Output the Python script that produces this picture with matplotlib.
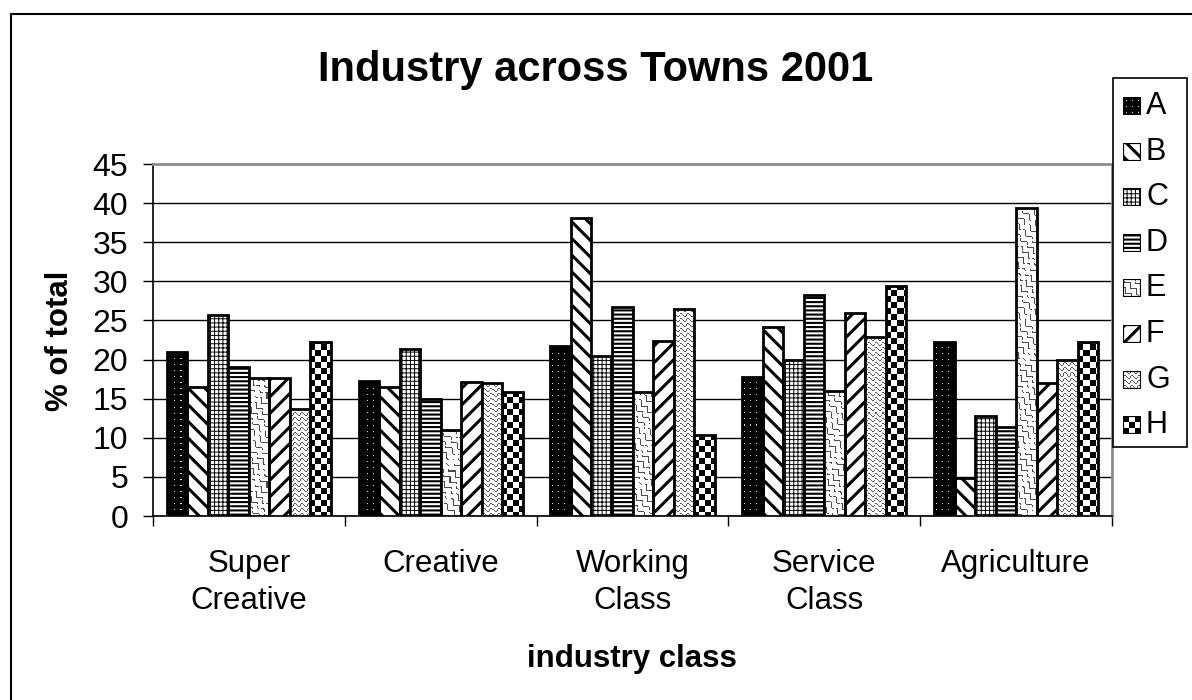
import numpy as np
import matplotlib
matplotlib.use("Agg")
import matplotlib.pyplot as plt
from matplotlib.patches import Rectangle

plt.rcParams['font.family'] = ['Liberation Sans', 'DejaVu Sans']

# data
categories = ["Super\nCreative", "Creative", "Working\nClass", "Service\nClass", "Agriculture"]
towns = ["A", "B", "C", "D", "E", "F", "G", "H"]
town_a = [21.0, 17.3, 21.7, 17.8, 22.2]
town_b = [16.5, 16.5, 38.1, 24.1, 4.8]
town_c = [25.7, 21.3, 20.4, 19.9, 12.8]
town_d = [19.0, 15.0, 26.7, 28.2, 11.4]
town_e = [17.6, 11.0, 15.8, 16.0, 39.4]
town_f = [17.6, 17.1, 22.4, 25.9, 17.0]
town_g = [13.7, 17.0, 26.4, 22.9, 20.0]
town_h = [22.2, 15.9, 10.3, 29.4, 22.2]
series = [town_a, town_b, town_c, town_d, town_e, town_f, town_g, town_h]

# fill style per town: ("hatch", pattern, hatch lw) or ("tex", texture name)
styles = [
    ("tex", "dots"),
    ("hatch", "\\\\", 2.2),
    ("hatch", "++++", 0.7),
    ("hatch", "----", 1.5),
    ("tex", "wave_d"),
    ("hatch", "//", 2.2),
    ("tex", "wave_h"),
    ("tex", "check"),
]

W, H = 1192, 700
DPI = 100


def texture(kind, w, h):
    y, x = np.mgrid[0:h, 0:w]
    arr = np.ones((h, w))
    if kind == "dots":
        arr[:] = 0.0
        arr[(y % 6 == 3) & (x % 6 == 3)] = 0.85
    elif kind == "check":
        arr = (((x // 6) + (y // 6)) % 2).astype(float)
    elif kind == "wave_h":
        v = y + 1.5 * np.sin(2 * np.pi * x / 7.0)
        arr[(v % 5) < 1.1] = 0.35
    elif kind == "wave_d":
        u = (x - y) / np.sqrt(2) + 1.8 * np.sin(2 * np.pi * (x + y) / (np.sqrt(2) * 9))
        arr[(u % 7) < 1.1] = 0.3
    return arr


def draw_bars(ax, x, heights, width, style, tex, lw=2.0):
    if style[0] == "hatch":
        with plt.rc_context({'hatch.linewidth': style[2]}):
            bars = ax.bar(x, heights, width, facecolor='white', edgecolor='black',
                          linewidth=lw, hatch=style[1], zorder=3)
        for b in bars:
            if hasattr(b, 'set_hatch_linewidth'):
                b.set_hatch_linewidth(style[2])
        return bars
    bars = ax.bar(x, heights, width, facecolor='none', edgecolor='black',
                  linewidth=lw, zorder=4)
    x0, x1 = ax.get_xlim()
    y0, y1 = ax.get_ylim()
    for b in bars:
        im = ax.imshow(tex, extent=(x0, x1, y0, y1), origin='upper', cmap='gray',
                       vmin=0, vmax=1, interpolation='nearest', aspect='auto', zorder=3)
        im.set_clip_path(b)
    return bars


fig = plt.figure(figsize=(W / DPI, H / DPI), dpi=DPI)

# plot area in pixels
px_l, px_r, px_t, px_b = 153, 1112, 164, 516
ax = fig.add_axes([px_l / W, 1 - px_b / H, (px_r - px_l) / W, (px_b - px_t) / H])
ax.set_xlim(-0.5, len(categories) - 0.5)
ax.set_ylim(0, 45)

pos = np.arange(len(categories))
bw = 0.107
for i, (vals, st) in enumerate(zip(series, styles)):
    tex = texture(st[1], px_r - px_l, px_b - px_t) if st[0] == "tex" else None
    draw_bars(ax, pos + (i - 3.5) * bw, vals, bw, st, tex)
ax.set_xlim(-0.5, len(categories) - 0.5)
ax.set_ylim(0, 45)

# axes styling
ax.set_yticks(np.arange(0, 46, 5))
ax.yaxis.grid(True, color='black', linewidth=1.0, zorder=0)
ax.set_axisbelow(True)
ax.tick_params(axis='y', labelsize=23, length=7.2, width=1, pad=10.8, direction='out')
ax.set_xticks(np.arange(-0.5, len(categories), 1.0))
ax.set_xticklabels([])
ax.set_xticks(pos, minor=True)
ax.set_xticklabels(categories, minor=True, fontsize=22.5, linespacing=1.3)
ax.tick_params(axis='x', which='major', length=7.2, width=1, direction='out')
ax.tick_params(axis='x', which='minor', length=0, pad=24)
for s in ['top', 'right']:
    ax.spines[s].set_color('#8c8c8c')
    ax.spines[s].set_linewidth(2)
ax.spines['left'].set_linewidth(1.2)
ax.spines['bottom'].set_linewidth(1.2)

# titles
fig.text(0.5, 1 - 70 / H, "Industry across Towns 2001", fontsize=30, fontweight='bold',
         ha='center', va='center')
fig.text(60 / W, 1 - 341 / H, "% of total", fontsize=22.5, fontweight='bold',
         rotation=90, ha='center', va='center')
fig.text(632 / W, 1 - 667 / H, "industry class", fontsize=22.5, fontweight='bold',
         ha='center', va='baseline')

# legend box
lg_l, lg_r, lg_t, lg_b = 1113, 1187, 78, 447
fig.add_artist(Rectangle((lg_l / W, 1 - lg_b / H), (lg_r - lg_l) / W, (lg_b - lg_t) / H,
                         transform=fig.transFigure, facecolor='white', edgecolor='black',
                         linewidth=1.2, zorder=5))
sw = 18
for i, (name, st) in enumerate(zip(towns, styles)):
    cy = 106 + 45.6 * i
    sax = fig.add_axes([1123 / W, 1 - (cy + sw / 2) / H, sw / W, sw / H], zorder=6)
    sax.set_xlim(0, 1)
    sax.set_ylim(0, 1)
    tex = texture(st[1], sw, sw) if st[0] == "tex" else None
    draw_bars(sax, [0.5], [1], 1, st, tex, lw=1.6)
    sax.set_xlim(0, 1)
    sax.set_ylim(0, 1)
    sax.axis('off')
    fig.text(1146 / W, 1 - cy / H, name, fontsize=22, ha='left', va='center', zorder=7)

# outer chart border
fig.add_artist(Rectangle((11 / W, -0.1), 1.2, 1 - 14 / H + 0.1, transform=fig.transFigure,
                         facecolor='none', edgecolor='black', linewidth=1.5))

fig.savefig("out.png", dpi=DPI)
